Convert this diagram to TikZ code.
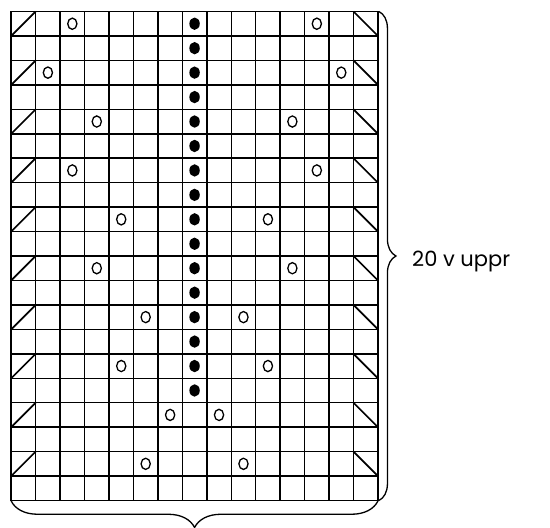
\documentclass[tikz,border=0pt]{standalone}
\usepackage{fontspec}
\setmainfont{Poppins}
\usetikzlibrary{decorations.pathreplacing}
\begin{document}
\begin{tikzpicture}[x=1pt,y=-1pt,
  gridline/.style={line width=1.5pt, line cap=rect},
  decline/.style={line width=1.7pt},
  yarnover/.style={line width=1.3pt},
  purlmark/.style={fill=black},
  bracestyle/.style={line width=1.3pt, decorate},
  labeltext/.style={font=\fontsize{21}{25}\selectfont, inner sep=0pt}]
\useasboundingbox (0,0) rectangle (550,528);
\begin{scope}[shift={(11.2,11.5)}, x=24.45pt, y=-24.45pt]
  \foreach \i in {0,...,15} \draw[gridline] (\i,0) -- (\i,20);
  \foreach \j in {0,...,20} \draw[gridline] (0,\j) -- (15,\j);
  \foreach \r in {0,2,...,18} {
    \draw[decline] (0,\r+1) -- (1,\r);
    \draw[decline] (14,\r) -- (15,\r+1);
  }
  \foreach \r in {0,...,15}
    \fill[purlmark] (7.5,\r+0.5) ellipse [x radius=5.2pt, y radius=6.2pt];
  \foreach \r/\c in {0/2,2/1,4/3,6/2,8/4,10/3,12/5,14/4,16/6,18/5} {
    \draw[yarnover] (\c+0.5,\r+0.5) ellipse [x radius=4.6pt, y radius=5.6pt];
    \draw[yarnover] (14-\c+0.5,\r+0.5) ellipse [x radius=4.6pt, y radius=5.6pt];
  }
  \coordinate (tr) at (15,0);
  \coordinate (br) at (15,20);
  \coordinate (bl) at (0,20);
\end{scope}
\draw[bracestyle, decoration={brace, amplitude=17pt}] ([xshift=1pt]tr) -- ([xshift=1pt]br);
\draw[bracestyle, decoration={brace, amplitude=26.5pt}] ([yshift=-0.5pt]br) -- ([yshift=-0.5pt]bl);
\node[labeltext, anchor=base west] (label) at (412,266) {20 v uppr};
\end{tikzpicture}
\end{document}
